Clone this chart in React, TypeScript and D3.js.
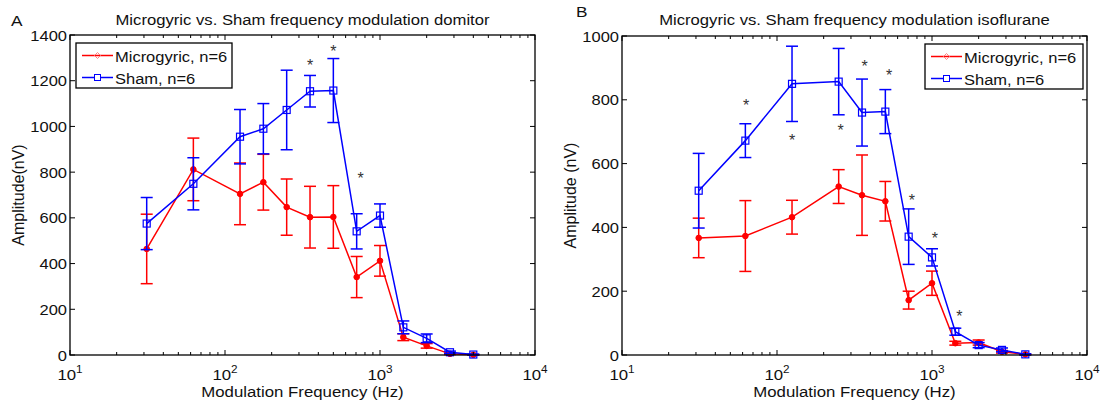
import React from 'react';
import * as d3 from 'd3';

// modulation frequencies (Hz) -- panel B has no 177 Hz point
const freqA = [31.25, 62.5, 125, 176.8, 250, 353.6, 500, 707.1, 1000, 1414, 2000, 2828, 4000];
const freqB = [31.25, 62.5, 125, 250, 353.6, 500, 707.1, 1000, 1414, 2000, 2828, 4000];

// panel A (domitor), amplitude in nV, +/- error
const microA = [464, 812, 705, 756, 647, 603, 604, 341, 412, 78, 40, 5, 1];
const microErrA = [152, 137, 135, 122, 123, 135, 137, 90, 67, 15, 10, 3, 1];
const shamA = [575, 749, 955, 990, 1072, 1154, 1157, 541, 610, 121, 73, 12, 2];
const shamErrA = [114, 114, 119, 110, 174, 69, 140, 77, 51, 28, 19, 5, 2];

// panel B (isoflurane)
const microB = [367, 373, 432, 528, 501, 482, 172, 225, 37, 39, 10, 2];
const microErrB = [62, 111, 53, 53, 126, 62, 28, 38, 6, 8, 4, 1];
const shamB = [515, 672, 850, 857, 760, 763, 371, 306, 73, 31, 16, 2];
const shamErrB = [117, 53, 118, 104, 105, 69, 87, 27, 11, 8, 6, 2];

// significance markers [freq, amplitude]
const starsA = [[353.6, 1280], [500, 1342], [750, 786]];
const starsB = [[63.2, 794], [125, 682], [257, 716], [368, 916], [528, 888], [741, 494], [1045, 376], [1503, 131]];

const yTicksA = [0, 200, 400, 600, 800, 1000, 1200, 1400];
const yTicksB = [0, 200, 400, 600, 800, 1000];
const xDecades = [1, 2, 3, 4];

const RED = '#ff0000';
const BLUE = '#0000ff';
const FONT = 'Liberation Sans, Arial, sans-serif';

// the source figure's text is a bit stretched sideways, so squeeze it out with scaleX
function T({ x, y, size, anchor = 'start', sx = 1, fill = '#111', children }) {
  return (
    <text transform={'translate(' + x + ',' + y + ') scale(' + sx + ',1)'} fontSize={size} textAnchor={anchor} fill={fill}>
      {children}
    </text>
  );
}

function Panel(props) {
  const { x0, x1, y0, y1, yMax, yTicks, freqs, micro, microErr, sham, shamErr, stars, title, yLabel, letter, legend } = props;

  const x = d3.scaleLog().domain([10, 10000]).range([x0, x1]);
  const y = d3.scaleLinear().domain([0, yMax]).range([y1, y0]);

  const line = d3
    .line()
    .x((d) => x(d[0]))
    .y((d) => y(d[1]));

  const minor = [];
  for (let e = 1; e < 4; e++) {
    for (let m = 2; m < 10; m++) minor.push(m * Math.pow(10, e));
  }

  const series = [
    { vals: micro, errs: microErr, color: RED, kind: 'dot' },
    { vals: sham, errs: shamErr, color: BLUE, kind: 'square' },
  ];

  const cap = 6;

  return (
    <g fontFamily={FONT}>
      <T x={letter[0]} y={letter[1]} size={15} sx={1.15}>{letter[2]}</T>
      <T x={(x0 + x1) / 2} y={25} size={14.5} sx={1.15} anchor="middle">{title}</T>

      {/* data */}
      {series.map((s, si) => {
        const pts = freqs.map((f, i) => [f, s.vals[i]]);
        return (
          <g key={si} stroke={s.color} strokeWidth={1.5} fill="none">
            {pts.map((p, i) => {
              const cx = x(p[0]);
              const hi = y(p[1] + s.errs[i]);
              const lo = y(Math.max(0, p[1] - s.errs[i]));
              return (
                <g key={i}>
                  <line x1={cx} x2={cx} y1={hi} y2={lo} />
                  <line x1={cx - cap} x2={cx + cap} y1={hi} y2={hi} />
                  <line x1={cx - cap} x2={cx + cap} y1={lo} y2={lo} />
                </g>
              );
            })}
            <path d={line(pts)} />
            {pts.map((p, i) =>
              s.kind === 'square' ? (
                <rect key={'m' + i} x={x(p[0]) - 3.5} y={y(p[1]) - 3.5} width={7} height={7} strokeWidth={1.2} fill="none" />
              ) : (
                <circle key={'m' + i} cx={x(p[0])} cy={y(p[1])} r={2.8} fill={s.color} strokeWidth={1} />
              )
            )}
          </g>
        );
      })}

      {stars.map((s, i) => (
        <T key={i} x={x(s[0])} y={y(s[1]) + 9} size={16} anchor="middle" fill="#333">*</T>
      ))}

      {/* frame */}
      <rect x={x0} y={y0} width={x1 - x0} height={y1 - y0} fill="none" stroke="#000" strokeWidth={1.3} />

      {/* x ticks */}
      {minor.map((v) => (
        <g key={v} stroke="#000" strokeWidth={1}>
          <line x1={x(v)} x2={x(v)} y1={y1} y2={y1 - 3} />
          <line x1={x(v)} x2={x(v)} y1={y0} y2={y0 + 3} />
        </g>
      ))}
      {xDecades.map((e) => {
        const xv = x(Math.pow(10, e));
        return (
          <g key={e}>
            <line x1={xv} x2={xv} y1={y1} y2={y1 - 5} stroke="#000" />
            <line x1={xv} x2={xv} y1={y0} y2={y0 + 5} stroke="#000" />
            <T x={xv} y={380} size={15} sx={1.12} anchor="middle">
              10
              <tspan dy={-7} fontSize={10.5}>{e}</tspan>
            </T>
          </g>
        );
      })}

      {/* y ticks */}
      {yTicks.map((t) => (
        <g key={t}>
          <line x1={x0} x2={x0 + 5} y1={y(t)} y2={y(t)} stroke="#000" />
          <line x1={x1} x2={x1 - 5} y1={y(t)} y2={y(t)} stroke="#000" />
          <T x={x0 - 3} y={y(t) + 5.5} size={15} sx={1.1} anchor="end">{t}</T>
        </g>
      ))}

      <T x={(x0 + x1) / 2} y={397} size={15} sx={1.12} anchor="middle">Modulation Frequency (Hz)</T>
      <text transform={'translate(' + (x0 - 46) + ',' + (y0 + y1) / 2 + ') rotate(-90)'} fontSize={16} textAnchor="middle" fill="#111">
        {yLabel}
      </text>

      {/* legend */}
      <g>
        <rect x={legend[0]} y={legend[1]} width={legend[2]} height={legend[3]} fill="#fff" stroke="#000" strokeWidth={1.3} />
        <line x1={legend[0] + 6} x2={legend[0] + 37} y1={legend[1] + 12.5} y2={legend[1] + 12.5} stroke={RED} strokeWidth={1.5} />
        <path
          d={`M${legend[0] + 21.5},${legend[1] + 9.5} l3,3 l-3,3 l-3,-3 z`}
          fill="none"
          stroke="#ff8080"
          strokeWidth={1}
        />
        <T x={legend[0] + 39} y={legend[1] + 18.5} size={15} sx={1.1}>Microgyric, n=6</T>
        <line x1={legend[0] + 6} x2={legend[0] + 37} y1={legend[1] + 34.5} y2={legend[1] + 34.5} stroke={BLUE} strokeWidth={1.5} />
        <rect x={legend[0] + 18.5} y={legend[1] + 31.5} width={6} height={6} fill="#fff" stroke={BLUE} strokeWidth={1} />
        <T x={legend[0] + 39} y={legend[1] + 40.5} size={15} sx={1.1}>Sham, n=6</T>
      </g>
    </g>
  );
}

export default function App() {
  return (
    <svg width={1102} height={405} style={{ position: 'absolute', left: 0, top: 0, background: '#fff' }}>
      <Panel
        x0={70}
        x1={535}
        y0={35}
        y1={355}
        yMax={1400}
        yTicks={yTicksA}
        freqs={freqA}
        micro={microA}
        microErr={microErrA}
        sham={shamA}
        shamErr={shamErrA}
        stars={starsA}
        title="Microgyric vs. Sham frequency modulation domitor"
        yLabel="Amplitude(nV)"
        letter={[11, 26, 'A']}
        legend={[76, 43, 156, 45]}
      />
      <Panel
        x0={622}
        x1={1087}
        y0={36}
        y1={355}
        yMax={1000}
        yTicks={yTicksB}
        freqs={freqB}
        micro={microB}
        microErr={microErrB}
        sham={shamB}
        shamErr={shamErrB}
        stars={starsB}
        title="Microgyric vs. Sham frequency modulation isoflurane"
        yLabel="Amplitude (nV)"
        letter={[576, 17, 'B']}
        legend={[925, 44, 158, 45]}
      />
    </svg>
  );
}
